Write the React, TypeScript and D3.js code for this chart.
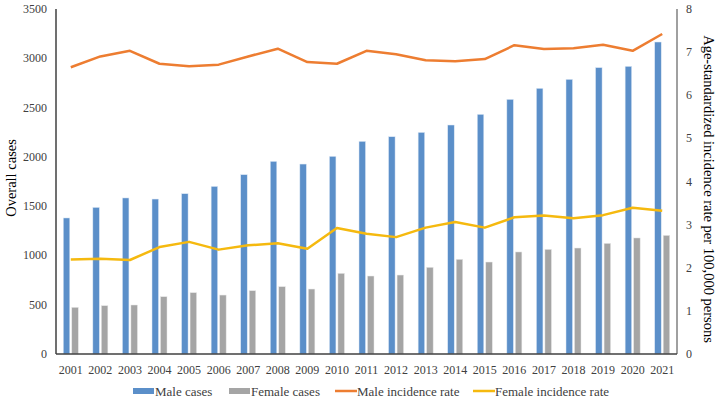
import React from 'react';
import * as d3 from 'd3';

// data
const years = ['2001', '2002', '2003', '2004', '2005', '2006', '2007', '2008', '2009', '2010', '2011',
  '2012', '2013', '2014', '2015', '2016', '2017', '2018', '2019', '2020', '2021'];
const maleCases = [1380, 1487, 1583, 1572, 1626, 1700, 1819, 1954, 1927, 2005, 2157,
  2204, 2248, 2323, 2431, 2583, 2695, 2786, 2905, 2918, 3165];
const femaleCases = [473, 490, 497, 581, 622, 598, 642, 683, 659, 818, 791,
  801, 879, 960, 933, 1035, 1061, 1075, 1122, 1177, 1203];
const maleRate = [6.65, 6.90, 7.03, 6.73, 6.67, 6.71, 6.90, 7.08, 6.77, 6.73, 7.03,
  6.95, 6.81, 6.79, 6.84, 7.16, 7.07, 7.09, 7.17, 7.03, 7.42];
const femaleRate = [2.19, 2.21, 2.18, 2.48, 2.60, 2.42, 2.52, 2.57, 2.44, 2.92, 2.79,
  2.71, 2.93, 3.06, 2.93, 3.17, 3.21, 3.15, 3.22, 3.39, 3.32];
const leftTicks = [0, 500, 1000, 1500, 2000, 2500, 3000, 3500];
const rightTicks = [0, 1, 2, 3, 4, 5, 6, 7, 8];

const BLUE = '#5B8FC9';
const GRAY = '#A5A5A5';
const ORANGE = '#ED7D31';
const YELLOW = '#F5B90F';
const FONT = '"Liberation Serif", "Times New Roman", serif';

const App = () => {
  const W = 720, H = 399;
  const left = 56, right = 677, top = 9, bottom = 354;

  const x = d3.scaleBand().domain(years).range([left, right]);
  const yL = d3.scaleLinear().domain([0, 3500]).range([bottom, top]);
  const yR = d3.scaleLinear().domain([0, 8]).range([bottom, top]);
  const cx = (yr: string) => (x(yr) as number) + x.bandwidth() / 2;
  const barW = 6.5;

  const line = (vals: number[]) =>
    d3.line<number>().x((_, i) => cx(years[i])).y(v => yR(v))(vals) || '';

  const legend = [
    { label: 'Male cases', kind: 'bar', color: BLUE, x: 133 },
    { label: 'Female cases', kind: 'bar', color: GRAY, x: 229 },
    { label: 'Male incidence rate', kind: 'line', color: ORANGE, x: 335 },
    { label: 'Female incidence rate', kind: 'line', color: YELLOW, x: 473 },
  ];

  return (
    <svg width={W} height={H} style={{ position: 'absolute', left: 0, top: 0, background: '#fff' }}
      fontFamily={FONT}>
      {/* bars */}
      {years.map((yr, i) => (
        <g key={yr}>
          <rect x={cx(yr) - 7.5} y={yL(maleCases[i])} width={barW} height={bottom - yL(maleCases[i])}
            fill={BLUE} stroke="#dce8f5" strokeWidth={0.5} />
          <rect x={cx(yr) + 1} y={yL(femaleCases[i])} width={barW} height={bottom - yL(femaleCases[i])}
            fill={GRAY} stroke="#e6e6e6" strokeWidth={0.5} />
        </g>
      ))}

      {/* lines */}
      <path d={line(maleRate)} fill="none" stroke={ORANGE} strokeWidth={2.5} strokeLinejoin="round" />
      <path d={line(femaleRate)} fill="none" stroke={YELLOW} strokeWidth={2.5} strokeLinejoin="round" />

      {/* axes */}
      <line x1={left} x2={left} y1={top} y2={bottom} stroke="#404040" strokeWidth={1.5} />
      <line x1={right} x2={right} y1={top} y2={bottom} stroke="#808080" strokeWidth={1.5} />
      <line x1={left} x2={right} y1={bottom} y2={bottom} stroke="#404040" strokeWidth={1.5} />

      {leftTicks.map(t => (
        <text key={t} x={47} y={yL(t)} textAnchor="end" dominantBaseline="central" fontSize={12} fill="#404040">{t}</text>
      ))}
      {rightTicks.map(t => (
        <text key={t} x={686} y={yR(t)} textAnchor="start" dominantBaseline="central" fontSize={12} fill="#404040">{t}</text>
      ))}
      {years.map(yr => (
        <text key={yr} x={cx(yr)} y={370} textAnchor="middle" dominantBaseline="central" fontSize={12} fill="#404040">{yr}</text>
      ))}

      <text transform="translate(11,178) rotate(-90)" textAnchor="middle"
        dominantBaseline="central" fontSize={14.5} fill="#000">Overall cases</text>
      <text transform="translate(709,189) rotate(90)" textAnchor="middle"
        dominantBaseline="central" fontSize={14.5} fill="#000">Age-standardized incidence rate per 100,000 persons</text>

      {/* legend */}
      {legend.map(l => (
        <g key={l.label}>
          {l.kind === 'bar'
            ? <rect x={l.x} y={388} width={21} height={6} fill={l.color} />
            : <line x1={l.x} x2={l.x + 22} y1={391} y2={391} stroke={l.color} strokeWidth={2.5} />}
          <text x={l.x + 22} y={391} dominantBaseline="central" fontSize={13} fill="#404040">{l.label}</text>
        </g>
      ))}
    </svg>
  );
};

export default App;
